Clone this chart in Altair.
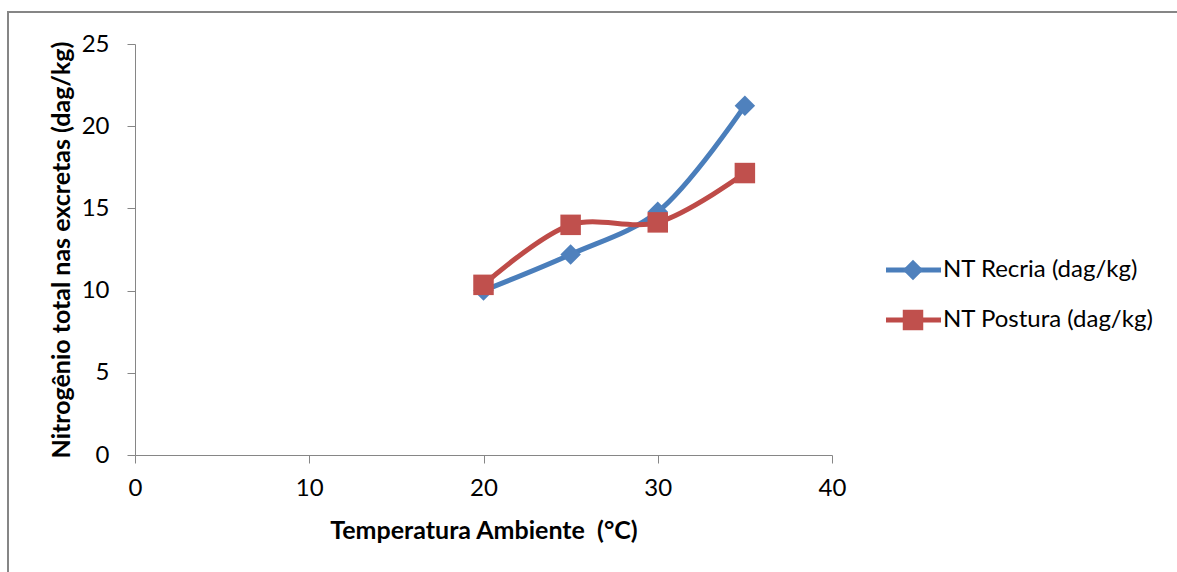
import altair as alt
import pandas as pd

temps = [20, 25, 30, 35]
recria = [10.0, 12.2, 14.8, 21.25]
postura = [10.35, 14.0, 14.15, 17.15]
series_names = ["NT Recria (dag/kg)", "NT Postura (dag/kg)"]
line_colors = ["#4A7EBB", "#BE4B48"]
marker_colors = ["#4F81BD", "#C0504D"]
x_ticks = [0, 10, 20, 30, 40]
y_ticks = [0, 5, 10, 15, 20, 25]

df = pd.DataFrame({
    "temp": temps * 2,
    "val": recria + postura,
    "serie": [series_names[0]] * 4 + [series_names[1]] * 4,
})

FONT = "Lato"
FS = 24
TFS = 25
W, H = 697, 411
PL, PT = 135, 44

xenc = alt.X("temp:Q", scale=alt.Scale(domain=[0, 40], nice=False),
             axis=alt.Axis(values=x_ticks, title="Temperatura Ambiente\u00a0 (°C)",
                           grid=False, domainColor="#868686", tickColor="#868686",
                           tickSize=8, labelPadding=13, titlePadding=18,
                           labelFlush=False, labelOverlap=False,
                           labelFontSize=FS, titleFontSize=TFS, labelFont=FONT,
                           titleFont=FONT, titleFontWeight="bold",
                           labelColor="#000", titleColor="#000"))
yenc = alt.Y("val:Q", scale=alt.Scale(domain=[0, 25], nice=False),
             axis=alt.Axis(values=y_ticks, title="Nitrogênio total nas excretas (dag/kg)",
                           grid=False, domainColor="#868686", tickColor="#868686",
                           tickSize=8, labelPadding=18, titlePadding=7,
                           labelFlush=False, labelOverlap=False,
                           labelFontSize=FS, titleFontSize=TFS, labelFont=FONT,
                           titleFont=FONT, titleFontWeight="bold",
                           labelColor="#000", titleColor="#000"))

color_line = alt.Color("serie:N", scale=alt.Scale(domain=series_names, range=line_colors), legend=None)
color_mark = alt.Color("serie:N", scale=alt.Scale(domain=series_names, range=marker_colors), legend=None)
shape = alt.Shape("serie:N", scale=alt.Scale(domain=series_names, range=["diamond", "square"]), legend=None)

lines = alt.Chart(df).mark_line(interpolate="catmull-rom", strokeWidth=5).encode(
    x=xenc, y=yenc, color=color_line, detail="serie:N")
points = alt.Chart(df).mark_point(filled=True, opacity=1, size=420).encode(
    x="temp:Q", y="val:Q", color=color_mark, shape=shape)

border = alt.Chart(df).mark_rect(fill=None, stroke="#868686", strokeWidth=1.5).encode(
    x=alt.value(8 - PL), x2=alt.value(1177 - PL + 10),
    y=alt.value(12 - PT), y2=alt.value(572 - PT + 10))

leg = pd.DataFrame({"serie": series_names, "ly": [270 - PT, 320 - PT]})
leg_lines = alt.Chart(leg).mark_rule(strokeWidth=5).encode(
    x=alt.value(886 - PL), x2=alt.value(941 - PL), y=alt.Y("ly:Q", scale=None),
    color=alt.Color("serie:N", scale=alt.Scale(domain=series_names, range=line_colors), legend=None))
leg_pts = alt.Chart(leg).mark_point(filled=True, opacity=1, size=420).encode(
    x=alt.value(913 - PL), y=alt.Y("ly:Q", scale=None),
    color=alt.Color("serie:N", scale=alt.Scale(domain=series_names, range=marker_colors), legend=None),
    shape=alt.Shape("serie:N", scale=alt.Scale(domain=series_names, range=["diamond", "square"]), legend=None))
leg_txt = alt.Chart(leg).mark_text(align="left", baseline="middle", fontSize=FS, font=FONT, color="#000").encode(
    x=alt.value(943 - PL), y=alt.Y("ly:Q", scale=None), text="serie:N")

chart = alt.layer(border, lines, points, leg_lines, leg_pts, leg_txt).resolve_scale(
    color="independent", shape="independent"
).properties(
    width=W, height=H,
    autosize=alt.AutoSizeParams(type="none"),
    padding={"left": PL, "top": PT, "right": 1177 - PL - W, "bottom": 572 - PT - H},
    background="white",
).configure_view(stroke=None)

chart.save("out.html", embed_options={"renderer": "svg", "actions": False})
